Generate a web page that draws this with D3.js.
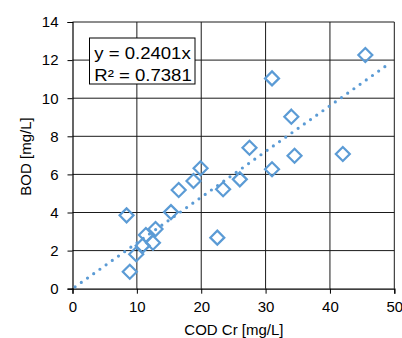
<!DOCTYPE html>
<html>
<head>
<meta charset="utf-8">
<script src="https://cdn.jsdelivr.net/npm/d3@7"></script>
<style>
  html, body { margin: 0; padding: 0; background: #fff; }
  svg { display: block; font-family: "Liberation Sans", Arial, sans-serif; }
</style>
</head>
<body>
<svg id="chart"></svg>
<script>
// COD Cr vs BOD samples
const codValues = [8.4, 15.3, 11.4, 12.9, 12.5, 10.9, 9.9, 8.9, 27.5, 19.9, 18.8, 16.5, 26.0, 23.4, 22.5, 45.5, 31.0, 34.0, 34.5, 42.0, 31.0];
const bodValues = [3.85, 4.02, 2.82, 3.13, 2.41, 2.26, 1.81, 0.89, 7.40, 6.32, 5.65, 5.18, 5.74, 5.22, 2.68, 12.27, 11.04, 9.03, 6.98, 7.07, 6.27];
const xTicks = [0, 10, 20, 30, 40, 50];
const yTicks = [0, 2, 4, 6, 8, 10, 12, 14];
const slope = 0.2401;
const trendRange = [0, 48.6];
const equationLines = ["y = 0.2401x", "R\u00b2 = 0.7381"];

const width = 402, height = 338;
const margin = { top: 22, right: 7.7, bottom: 49.3, left: 72.5 };
const innerW = width - margin.left - margin.right;
const innerH = height - margin.top - margin.bottom;
const blue = "#5b9bd5";

const svg = d3.select("#chart").attr("width", width).attr("height", height);
const root = svg.append("g").attr("transform", `translate(${margin.left},${margin.top})`);

const x = d3.scaleLinear().domain([0, 50]).range([0, innerW]);
const y = d3.scaleLinear().domain([0, 14]).range([innerH, 0]);

// grid
root.append("g")
  .selectAll("line")
  .data(xTicks.slice(1))
  .join("line")
  .attr("x1", (d) => x(d)).attr("x2", (d) => x(d))
  .attr("y1", 0).attr("y2", innerH)
  .attr("stroke", "#1a1a1a").attr("stroke-width", 1);
root.append("g")
  .selectAll("line")
  .data(yTicks.slice(1))
  .join("line")
  .attr("x1", 0).attr("x2", innerW)
  .attr("y1", (d) => y(d)).attr("y2", (d) => y(d))
  .attr("stroke", "#1a1a1a").attr("stroke-width", 1);

// axes
const xAxis = root.append("g")
  .attr("transform", `translate(0,${innerH})`)
  .call(d3.axisBottom(x).tickValues(xTicks).tickSize(5).tickPadding(8));
const yAxis = root.append("g")
  .call(d3.axisLeft(y).tickValues(yTicks).tickSize(5).tickPadding(9));
[xAxis, yAxis].forEach((g) => {
  g.select(".domain").attr("stroke", "#000").attr("stroke-width", 1.2);
  g.selectAll(".tick line").attr("stroke", "#000");
  g.selectAll(".tick text")
    .attr("font-size", 15)
    .attr("fill", "#000")
    .attr("font-family", "Liberation Sans, Arial, sans-serif");
});

// trendline
root.append("line")
  .attr("x1", x(trendRange[0])).attr("y1", y(slope * trendRange[0]))
  .attr("x2", x(trendRange[1])).attr("y2", y(slope * trendRange[1]))
  .attr("stroke", blue)
  .attr("stroke-width", 3.2)
  .attr("stroke-linecap", "round")
  .attr("stroke-dasharray", "0 7.6")
  .attr("stroke-dashoffset", -3.2);

// markers
const points = codValues.map((v, i) => ({ cod: v, bod: bodValues[i] }));
root.append("g")
  .selectAll("path")
  .data(points)
  .join("path")
  .attr("transform", (d) => `translate(${x(d.cod)},${y(d.bod)})`)
  .attr("d", "M0,-7 L7,0 L0,7 L-7,0 Z")
  .attr("fill", "none")
  .attr("stroke", blue)
  .attr("stroke-width", 2.2);

// equation box
const box = svg.append("g").attr("transform", "translate(89.5,38)");
box.append("rect")
  .attr("width", 105.5).attr("height", 46)
  .attr("fill", "#fff").attr("stroke", "#000").attr("stroke-width", 1);
box.selectAll("text")
  .data(equationLines)
  .join("text")
  .attr("transform", (d, i) => `translate(4.8,${21 + i * 21.7}) scale(1.16,1)`)
  .attr("font-size", 16)
  .attr("fill", "#000")
  .text((d) => d);

// axis titles
svg.append("text")
  .attr("x", margin.left + x(25) + 0.5)
  .attr("y", 335)
  .attr("text-anchor", "middle")
  .attr("font-size", 15)
  .text("COD Cr [mg/L]");
svg.append("text")
  .attr("transform", `translate(31,156.5) rotate(-90)`)
  .attr("text-anchor", "middle")
  .attr("font-size", 15)
  .text("BOD [mg/L]");
</script>
</body>
</html>
